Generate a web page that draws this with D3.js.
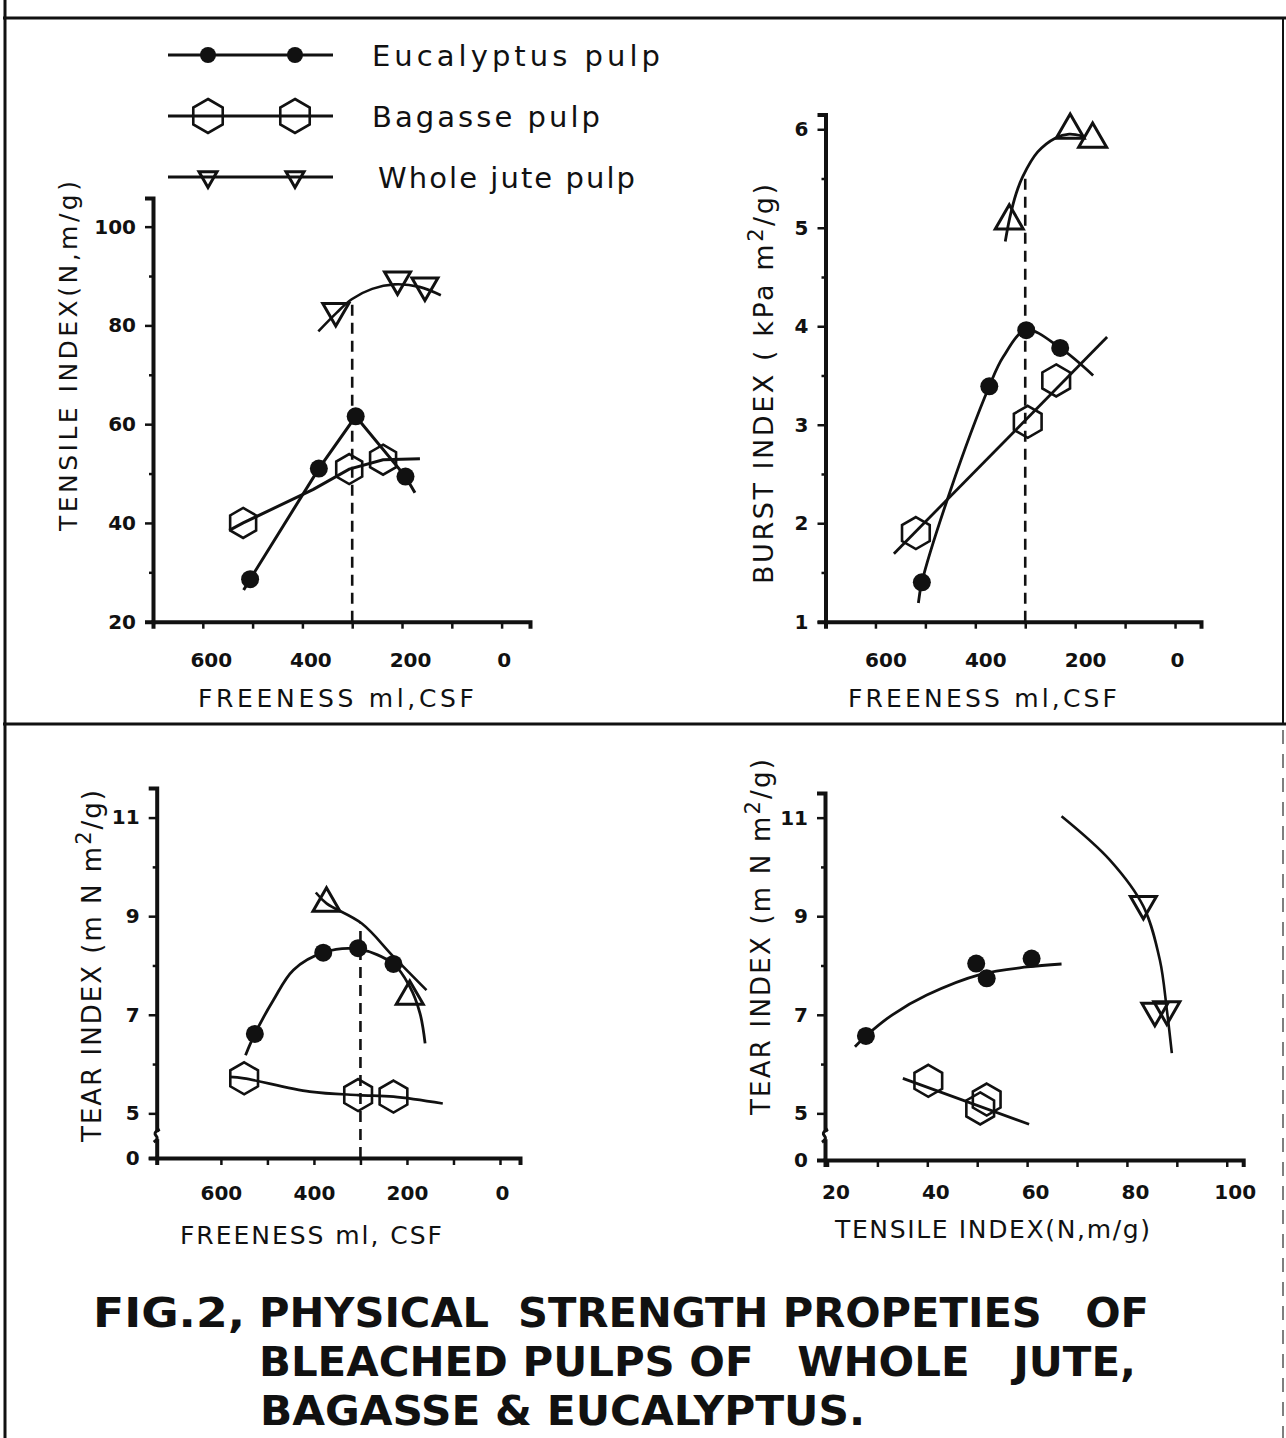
<!DOCTYPE html>
<html>
<head>
<meta charset="utf-8">
<script src="https://cdn.jsdelivr.net/npm/d3@7"></script>
<style>
  body { margin: 0; background: #fff; }
  svg { display: block; }
  text { fill: #111; }
</style>
</head>
<body>
<div id="chart"></div>
<script>
// ---- data ----
const freenessTicks = [600, 500, 400, 300, 200, 100, 0];
const freenessLabels = [600, 400, 200, 0];
const tensileTicks = [20, 30, 40, 50, 60, 70, 80, 90, 100];
const tensileLabels = [20, 40, 60, 80, 100];

// tensile index vs freeness
const tensileEuc = [[505, 28.6], [367, 51.0], [293, 61.6], [193, 49.4]];
const tensileBag = [[519, 40.0], [306, 50.9], [238, 52.8]];
const tensileJute = [[333, 82.9], [209, 89.3], [154, 88.1]];
const tensileEucLine = [[518, 26.4], [505, 28.6], [367, 51.0], [293, 61.6], [193, 49.4], [174, 46.1]];
const tensileBagLine = [[547, 38.5], [519, 40.0], [378, 46.8], [306, 50.9], [238, 52.8], [164, 53.0]];
const tensileJuteLine = [[368, 78.8], [331, 82.6], [301, 85.3], [260, 87.4], [215, 88.3], [165, 87.8], [122, 86.1]];

// burst index vs freeness
const burstEuc = [[507, 1.40], [372, 3.39], [298, 3.96], [230, 3.78]];
const burstBag = [[519, 1.90], [295, 3.03], [238, 3.45]];
const burstJute = [[332, 5.07], [210, 5.99], [165, 5.90]];
const burstEucLine = [[514, 1.19], [507, 1.40], [450, 2.33], [372, 3.39], [344, 3.69], [298, 3.96], [230, 3.78], [164, 3.50]];
const burstBagLine = [[563, 1.69], [136, 3.89]];
const burstJuteLine = [[340, 4.86], [331, 5.10], [318, 5.35], [305, 5.52], [275, 5.77], [240, 5.91], [212, 5.95], [185, 5.93]];

// tear index vs freeness
const tearEuc = [[527, 6.61], [380, 8.26], [305, 8.35], [229, 8.03]];
const tearBag = [[550, 5.71], [305, 5.37], [229, 5.34]];
const tearJute = [[373, 9.26], [194, 7.37]];
const tearEucLine = [[547, 6.18], [527, 6.61], [487, 7.30], [444, 7.91], [380, 8.26], [305, 8.33], [229, 8.03], [194, 7.57], [172, 7.03], [161, 6.42]];
const tearBagLine = [[581, 5.74], [550, 5.71], [409, 5.44], [305, 5.37], [229, 5.34], [123, 5.20]];
const tearJuteLine = [[396, 9.48], [373, 9.26], [297, 8.85], [229, 8.18], [158, 7.50]];

// tear index vs tensile index
const ttEuc = [[27.7, 6.57], [49.8, 8.04], [51.9, 7.74], [60.9, 8.14]];
const ttBag = [[40.2, 5.66], [51.9, 5.28], [50.6, 5.10]];
const ttJute = [[83.3, 9.25], [85.6, 7.08], [88.0, 7.11]];
const ttEucLine = [[25.5, 6.35], [27.7, 6.57], [33.0, 7.00], [39.9, 7.40], [50.7, 7.82], [60.0, 7.97], [66.9, 8.03]];
const ttBagLine = [[35.1, 5.71], [60.4, 4.78]];
const ttJuteLine = [[66.9, 11.03], [76.6, 10.14], [83.3, 9.20], [86.6, 8.11], [88.0, 7.10], [89.0, 6.22]];

const refFreeness = 300;

const W = 1286, H = 1438;
const svg = d3.select('#chart').append('svg').attr('width', W).attr('height', H);

// ---- frame ----
const frame = svg.append('g').attr('stroke', '#111').attr('fill', 'none');
frame.append('line').attr('x1', 5).attr('x2', 5).attr('y1', 0).attr('y2', H).attr('stroke-width', 3);
frame.append('line').attr('x1', 3).attr('x2', W).attr('y1', 18).attr('y2', 18).attr('stroke-width', 3);
frame.append('line').attr('x1', 3).attr('x2', W).attr('y1', 724).attr('y2', 724).attr('stroke-width', 3);
frame.append('line').attr('x1', 1283).attr('x2', 1283).attr('y1', 18).attr('y2', 724).attr('stroke-width', 2);
frame.append('line').attr('x1', 1283).attr('x2', 1283).attr('y1', 730).attr('y2', H)
    .attr('stroke-width', 1.5).attr('stroke-dasharray', '14,10').attr('stroke', '#555');

// ---- marker shapes ----
function hexPath(r) {
    const pts = d3.range(6).map(i => {
        const a = (-90 + i * 60) * Math.PI / 180;
        return [r * Math.cos(a), r * Math.sin(a)];
    });
    return 'M' + pts.join('L') + 'Z';
}
function triPath(s, down) {
    const h = s * Math.sqrt(3) / 2, k = down ? 1 : -1;
    return `M${-s / 2},${-k * h / 3}L${s / 2},${-k * h / 3}L0,${k * 2 * h / 3}Z`;
}
function drawMarker(g, shape, cx, cy, size) {
    if (shape === 'circle') {
        g.append('circle').attr('cx', cx).attr('cy', cy).attr('r', size).attr('fill', '#111');
    } else if (shape === 'hex') {
        g.append('path').attr('d', hexPath(size)).attr('transform', `translate(${cx},${cy})`)
            .attr('fill', 'none').attr('stroke', '#111').attr('stroke-width', 2.6);
    } else {
        g.append('path').attr('d', triPath(size, shape === 'triDown')).attr('transform', `translate(${cx},${cy})`)
            .attr('fill', 'none').attr('stroke', '#111').attr('stroke-width', 3);
    }
}

// ---- legend ----
const legendItems = [
    { name: 'Eucalyptus pulp', shape: 'circle', size: 8, len: 288 },
    { name: 'Bagasse pulp', shape: 'hex', size: 17, len: 228 },
    { name: 'Whole jute pulp', shape: 'triDown', size: 18, len: 257 }
];
const legend = svg.append('g');
legendItems.forEach((d, i) => {
    const y = 55 + i * 61;
    legend.append('line').attr('x1', 168).attr('x2', 333).attr('y1', y).attr('y2', y)
        .attr('stroke', '#111').attr('stroke-width', 3);
    drawMarker(legend, d.shape, 208, y, d.size);
    drawMarker(legend, d.shape, 295, y, d.size);
    legend.append('text').attr('x', i === 2 ? 378 : 372).attr('y', y + 11)
        .attr('font-family', 'DejaVu Sans').attr('font-size', 29)
        .attr('textLength', d.len).attr('lengthAdjust', 'spacing')
        .text(d.name);
});

// ---- panels ----
function panel(cfg) {
    const g = svg.append('g');
    const x = d3.scaleLinear().domain(cfg.xDomain).range(cfg.xRange);
    const y = d3.scaleLinear().domain(cfg.yDomain).range(cfg.yRange);
    const y0 = cfg.yRange[0];

    const xAxis = g.append('g').attr('transform', `translate(0,${y0})`)
        .call(d3.axisBottom(x).tickValues(cfg.xTicks).tickSizeOuter(0).tickSize(7).tickPadding(cfg.xPad)
            .tickFormat(d => cfg.xLabels.includes(d) ? String(d) : ''));
    xAxis.selectAll('text').attr('dx', d => d === 0 ? 2 : cfg.xShift);

    const yMinor = g.append('g').attr('transform', `translate(${cfg.xRange[0]},0)`)
        .call(d3.axisLeft(y).tickValues(cfg.yMinor).tickSizeOuter(0).tickSize(4).tickFormat(''));
    yMinor.select('.domain').remove();
    g.append('g').attr('transform', `translate(${cfg.xRange[0]},0)`)
        .call(d3.axisLeft(y).tickValues(cfg.yTicks).tickSizeOuter(0).tickSize(8).tickPadding(9)
            .tickFormat(d => String(d)));

    g.selectAll('.domain').attr('stroke', '#111').attr('stroke-width', 4);
    g.selectAll('.tick line').attr('stroke', '#111').attr('stroke-width', 2.5);
    g.selectAll('.tick text').attr('font-family', 'DejaVu Sans').attr('font-weight', 'bold')
        .attr('font-size', 20).attr('fill', '#111');

    if (cfg.broken) {
        const ax = cfg.xRange[0], b1 = y(4.62), b2 = y(4.25);
        g.append('rect').attr('x', ax - 4).attr('y', b1).attr('width', 8).attr('height', b2 - b1).attr('fill', '#fff');
        g.append('path')
            .attr('d', `M${ax + 3},${b1 - 3}C${ax - 9},${b1 + 4} ${ax + 7},${b2 - 4} ${ax - 3},${b2 + 3}`)
            .attr('fill', 'none').attr('stroke', '#111').attr('stroke-width', 3);
    }

    if (cfg.dashTop !== undefined) {
        g.append('line').attr('x1', x(refFreeness)).attr('x2', x(refFreeness))
            .attr('y1', y0).attr('y2', y(cfg.dashTop))
            .attr('stroke', '#111').attr('stroke-width', 2.6).attr('stroke-dasharray', '11,7');
    }

    const line = curve => d3.line().x(d => x(d[0])).y(d => y(d[1])).curve(curve);
    cfg.lines.forEach(l => {
        g.append('path').attr('d', line(l.curve)(l.data))
            .attr('fill', 'none').attr('stroke', '#111').attr('stroke-width', l.w || 2.8);
    });
    cfg.series.forEach(s => s.data.forEach(d => drawMarker(g, s.shape, x(d[0]), y(d[1]), s.size)));

    // axis titles
    const yl = svg.append('text')
        .attr('transform', `translate(${cfg.yTitle.x},${cfg.yTitle.cy}) rotate(-90)`)
        .attr('text-anchor', 'middle').attr('font-family', 'DejaVu Sans').attr('font-size', cfg.yTitle.size)
        .attr('textLength', cfg.yTitle.len).attr('lengthAdjust', 'spacing');
    yl.append('tspan').text(cfg.yTitle.parts[0]);
    if (cfg.yTitle.parts.length > 1) {
        yl.append('tspan').attr('dy', -10).attr('font-size', 21).text('2');
        yl.append('tspan').attr('dy', 10).text(cfg.yTitle.parts[1]);
    }
    svg.append('text').attr('x', cfg.xTitle.x).attr('y', cfg.xTitle.y)
        .attr('font-family', 'DejaVu Sans').attr('font-size', 25)
        .attr('textLength', cfg.xTitle.len).attr('lengthAdjust', 'spacing')
        .text(cfg.xTitle.text);
}

panel({
    xDomain: [700, -57], xRange: [153, 530],
    yDomain: [20, 105.8], yRange: [621.7, 198],
    xTicks: freenessTicks, xLabels: freenessLabels, xPad: 24, xShift: 8,
    yTicks: [20, 40, 60, 80, 100], yMinor: [30, 50, 70, 90],
    dashTop: 85.3,
    lines: [
        { data: tensileEucLine, curve: d3.curveLinear, w: 3 },
        { data: tensileBagLine, curve: d3.curveLinear, w: 3 },
        { data: tensileJuteLine, curve: d3.curveCatmullRom, w: 2.6 }
    ],
    series: [
        { data: tensileEuc, shape: 'circle', size: 9 },
        { data: tensileBag, shape: 'hex', size: 15 },
        { data: tensileJute, shape: 'triDown', size: 26 }
    ],
    yTitle: { x: 77, cy: 356, len: 350, size: 25, parts: ['TENSILE INDEX(N,m/g)'] },
    xTitle: { x: 198, y: 707, len: 276, text: 'FREENESS ml,CSF' }
});

panel({
    xDomain: [700, -52], xRange: [825.5, 1201],
    yDomain: [1, 6.15], yRange: [621.7, 114.5],
    xTicks: freenessTicks, xLabels: freenessLabels, xPad: 24, xShift: 10,
    yTicks: [1, 2, 3, 4, 5, 6], yMinor: [1.5, 2.5, 3.5, 4.5, 5.5],
    dashTop: 5.55,
    lines: [
        { data: burstEucLine, curve: d3.curveCatmullRom },
        { data: burstBagLine, curve: d3.curveLinear },
        { data: burstJuteLine, curve: d3.curveCatmullRom }
    ],
    series: [
        { data: burstEuc, shape: 'circle', size: 9 },
        { data: burstBag, shape: 'hex', size: 16 },
        { data: burstJute, shape: 'triUp', size: 28 }
    ],
    yTitle: { x: 773, cy: 384, len: 400, size: 27, parts: ['BURST INDEX ( kPa m', '/g)'] },
    xTitle: { x: 848, y: 707, len: 269, text: 'FREENESS ml,CSF' }
});

panel({
    xDomain: [738, -43], xRange: [156.7, 520],
    yDomain: [0, 4.5, 11.6], yRange: [1158, 1138, 788],
    xTicks: freenessTicks, xLabels: freenessLabels, xPad: 21, xShift: 0,
    yTicks: [0, 5, 7, 9, 11], yMinor: [6, 8, 10],
    broken: true,
    dashTop: 8.85,
    lines: [
        { data: tearEucLine, curve: d3.curveCatmullRom },
        { data: tearBagLine, curve: d3.curveCatmullRom, w: 2.6 },
        { data: tearJuteLine, curve: d3.curveCatmullRom, w: 2.6 }
    ],
    series: [
        { data: tearEuc, shape: 'circle', size: 9 },
        { data: tearBag, shape: 'hex', size: 16 },
        { data: tearJute, shape: 'triUp', size: 27 }
    ],
    yTitle: { x: 101, cy: 966, len: 352, size: 26, parts: ['TEAR INDEX (m N m', '/g)'] },
    xTitle: { x: 180, y: 1244, len: 262, text: 'FREENESS ml, CSF' }
});

panel({
    xDomain: [19.5, 103.3], xRange: [825, 1243.2],
    yDomain: [0, 4.5, 11.5], yRange: [1160, 1138, 793],
    xTicks: tensileTicks, xLabels: tensileLabels, xPad: 18, xShift: 8,
    yTicks: [0, 5, 7, 9, 11], yMinor: [6, 8, 10],
    broken: true,
    lines: [
        { data: ttEucLine, curve: d3.curveCatmullRom },
        { data: ttBagLine, curve: d3.curveLinear },
        { data: ttJuteLine, curve: d3.curveCatmullRom, w: 2.6 }
    ],
    series: [
        { data: ttEuc, shape: 'circle', size: 9 },
        { data: ttBag, shape: 'hex', size: 16 },
        { data: ttJute, shape: 'triDown', size: 26 }
    ],
    yTitle: { x: 770, cy: 937, len: 356, size: 26, parts: ['TEAR INDEX (m N m', '/g)'] },
    xTitle: { x: 835, y: 1238, len: 315, text: 'TENSILE INDEX(N,m/g)' }
});

// ---- caption ----
const caption = [
    { x: 93, y: 1327, len: 152, text: 'FIG.2,' },
    { x: 259, y: 1327, len: 890, text: 'PHYSICAL  STRENGTH PROPETIES   OF' },
    { x: 259, y: 1376, len: 877, text: 'BLEACHED PULPS OF   WHOLE   JUTE,' },
    { x: 260, y: 1425, len: 605, text: 'BAGASSE & EUCALYPTUS.' }
];
svg.append('g').selectAll('text').data(caption).join('text')
    .attr('x', d => d.x).attr('y', d => d.y)
    .attr('font-family', '"DejaVu Sans Condensed", "Liberation Sans Narrow", "DejaVu Sans"')
    .attr('font-weight', 'bold').attr('font-size', 41)
    .attr('textLength', d => d.len).attr('lengthAdjust', 'spacingAndGlyphs')
    .style('white-space', 'pre')
    .text(d => d.text);
</script>
</body>
</html>
